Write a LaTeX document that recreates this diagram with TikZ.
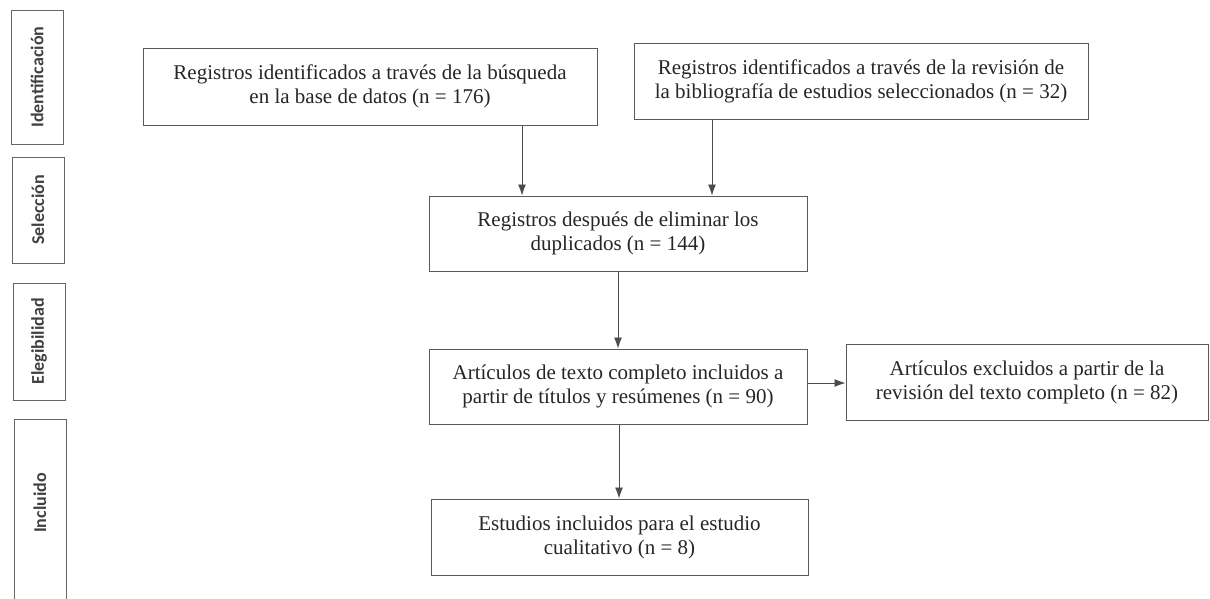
\documentclass[tikz,border=0pt]{standalone}
\usepackage{fontspec}
\setmainfont{Liberation Serif}
\newfontfamily\labelfont{Carlito}
\usetikzlibrary{arrows.meta}
\begin{document}
\begin{tikzpicture}[x=1pt,y=-1pt,
  box/.style={draw=black!65, line width=1pt, align=center, inner sep=0pt,
    font=\fontsize{21}{24}\selectfont, text=black!85},
  lab/.style={draw=black!60, line width=1pt, inner sep=0pt, minimum width=52pt,
    text=black!80},
  labtxt/.style={rotate=90, font=\labelfont\bfseries\fontsize{18}{20}\selectfont, text=black!75},
  arr/.style={draw=black!70, line width=0.9pt, -{Latex[length=11pt,width=8pt]}}]
\useasboundingbox (0,0) rectangle (1210,598);
\begin{scope}
\clip (0,0) rectangle (1210,598);
% stage labels
\node[lab, minimum height=134pt] (l1) at (37,77) {};
\node[labtxt] (t1) at (l1.center) {Identificación};
\node[lab, minimum height=106pt] (l2) at (38,210) {};
\node[labtxt] (t2) at (l2.center) {Selección};
\node[lab, minimum height=117pt] (l3) at (39,341.5) {};
\node[labtxt] (t3) at (l3.center) {Elegibilidad};
\node[lab, minimum height=200pt] (l4) at (40,519) {};
\node[labtxt] (t4) at (40,503) {Incluido};
% boxes
\node[box, minimum width=454pt, minimum height=77pt] (b1) at (370,86.5)
  {Registros identificados a través de la búsqueda\\ en la base de datos (n = 176)};
\node[box, minimum width=454pt, minimum height=76pt] (b2) at (861,81)
  {Registros identificados a través de la revisión de\\ la bibliografía de estudios seleccionados (n = 32)};
\node[box, minimum width=378pt, minimum height=75pt] (b3) at (618,233.5)
  {Registros después de eliminar los\\ duplicados (n = 144)};
\node[box, minimum width=378pt, minimum height=75pt] (b4) at (618,386.5)
  {Artículos de texto completo incluidos a\\ partir de títulos y resúmenes (n = 90)};
\node[box, minimum width=362pt, minimum height=76pt] (b5) at (1027,382)
  {Artículos excluidos a partir de la\\ revisión del texto completo (n = 82)};
\node[box, minimum width=377pt, minimum height=76pt] (b6) at (619.5,537)
  {Estudios incluidos para el estudio\\ cualitativo (n = 8)};
% connectors
\coordinate (c1) at (522,0);
\coordinate (c2) at (712,0);
\coordinate (c3) at (618,0);
\coordinate (c4) at (619,0);
\coordinate (c5) at (0,383);
\draw[arr] (b1.south -| c1) -- (b3.north -| c1);
\draw[arr] (b2.south -| c2) -- (b3.north -| c2);
\draw[arr] (b3.south -| c3) -- (b4.north -| c3);
\draw[arr] (b4.south -| c4) -- (b6.north -| c4);
\draw[arr] (b4.east |- c5) -- (b5.west |- c5);
\end{scope}
\end{tikzpicture}
\end{document}
